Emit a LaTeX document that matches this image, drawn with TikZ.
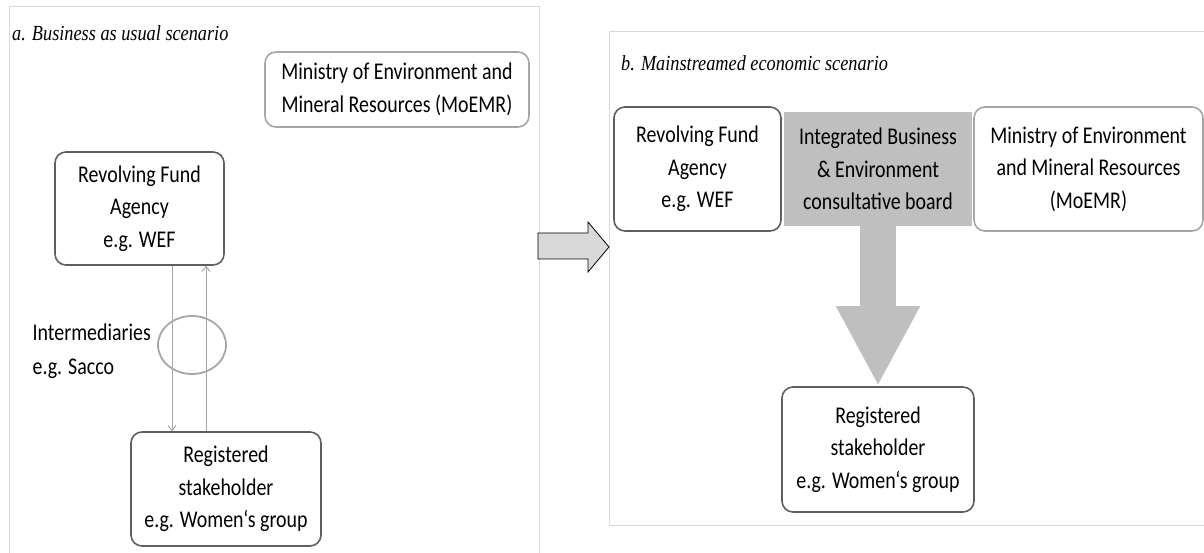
\documentclass[tikz,border=0pt]{standalone}
\usepackage{fontspec}
\setmainfont{Carlito}[FakeStretch=0.83]
\newfontfamily\titlefont{Liberation Serif}[FakeStretch=0.85]
\usetikzlibrary{arrows.meta, positioning, shapes.geometric}
\definecolor{boxline}{HTML}{5F5F5F}
\definecolor{lightline}{HTML}{A6A6A6}
\definecolor{boardgray}{HTML}{BFBFBF}
\definecolor{framegray}{HTML}{D9D9D9}
\definecolor{shiftgray}{HTML}{D9D9D9}
\tikzset{
    box/.style={draw=boxline, line width=1.6pt, fill=white, rounded corners=11pt, align=center, inner sep=0pt, font=\fontsize{24}{32.5}\selectfont},
    ministrybox/.style={box, draw=lightline},
    boardbox/.style={fill=boardgray, align=center, inner sep=0pt, font=\fontsize{24}{32.5}\selectfont},
    flow/.style={-{Straight Barb[length=5pt,width=8pt]}, lightline, line width=0.9pt},
    bigarrow/.style={-{Triangle[length=80pt,width=78pt]}, boardgray, line width=36pt},
    frame/.style={framegray, line width=1pt},
    scenario/.style={font=\titlefont\itshape\fontsize{21.5}{24}\selectfont, anchor=west, inner sep=0pt}
}

\begin{document}
\begin{tikzpicture}[x=1pt, y=-1pt]
    \useasboundingbox (0,0) rectangle (1204,553);
    % panel frames
    \draw[frame] (9,553) -- (9,7) -- (539,7) -- (539,553);
    \draw[frame] (1204,32) -- (609,32) -- (609,525) -- (1204,525);

    % a. business as usual
    \node[scenario] (titleA) at (12,33) {a. Business as usual scenario};
    \node[ministrybox, minimum width=264pt, minimum height=75pt] (minA) at (397,89.5) {Ministry of Environment and\\Mineral Resources (MoEMR)};
    \node[box, minimum width=169pt, minimum height=113pt] (rfA) at (139.5,208.5) {Revolving Fund\\Agency\\e.g. WEF};
    \node[box, minimum width=190pt, minimum height=114pt] (rsA) at (226,489) {Registered\\stakeholder\\e.g. Women‘s group};
    \node[draw=lightline, line width=1.8pt, ellipse, minimum width=68pt, minimum height=58pt, inner sep=0pt] (ell) at (192,345) {};
    \node[left=6pt of ell, yshift=-6pt, align=left, inner sep=0pt, font=\fontsize{24}{34}\selectfont] (inter) {Intermediaries\\e.g. Sacco};
    \draw[flow] ([xshift=32.5pt]rfA.south) -- ([xshift=32.5pt]rfA.south |- rsA.north);
    \draw[flow] ([xshift=66.5pt]rfA.south |- rsA.north) -- ([xshift=66.5pt]rfA.south);

    % shift between scenarios
    \draw[fill=shiftgray, line width=0.8pt] (538,233) -- (588,233) -- (588,222) -- (609,247) -- (588,272) -- (588,259) -- (538,259) -- cycle;

    % b. mainstreamed
    \node[scenario] (titleB) at (621,63) {b. Mainstreamed economic scenario};
    \node[box, minimum width=167pt, minimum height=124pt] (rfB) at (697.5,169) {Revolving Fund\\Agency\\e.g. WEF};
    \node[boardbox, minimum width=188pt, minimum height=114pt, right=2pt of rfB] (board) {Integrated Business\\\& Environment\\consultative board};
    \node[ministrybox, minimum width=229pt, minimum height=124pt, right=1pt of board] (minB) {Ministry of Environment\\and Mineral Resources\\(MoEMR)};
    \node[box, minimum width=192pt, minimum height=125pt, below=160pt of board] (rsB) {Registered\\stakeholder\\e.g. Women‘s group};
    \draw[bigarrow] (board.south) -- (rsB.north);
\end{tikzpicture}
\end{document}
